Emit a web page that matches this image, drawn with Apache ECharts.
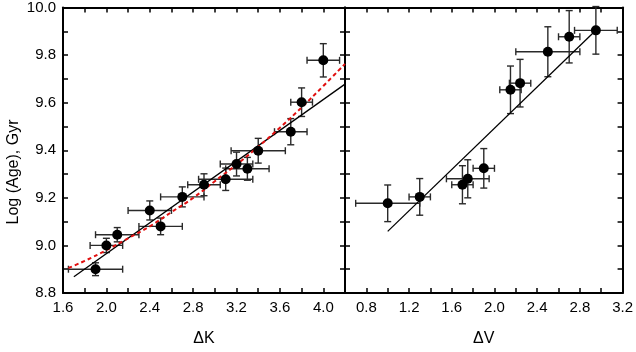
<!DOCTYPE html>
<html>
<head>
<meta charset="utf-8">
<script src="https://cdn.jsdelivr.net/npm/echarts@6/dist/echarts.min.js"></script>
<style>
  html, body { margin: 0; padding: 0; background: #fff; }
  #chart { width: 636px; height: 352px; }
</style>
</head>
<body>
<div id="chart"></div>
<script>
// left panel: delta K
const kX = [1.9, 2.0, 2.1, 2.4, 2.5, 2.7, 2.9, 3.1, 3.2, 3.3, 3.4, 3.7, 3.8, 4.0]
const kY = [8.90, 9.00, 9.045, 9.147, 9.08, 9.204, 9.255, 9.278, 9.342, 9.322, 9.398, 9.478, 9.602, 9.778]
const kXErr = [0.25, 0.15, 0.2, 0.2, 0.2, 0.2, 0.15, 0.25, 0.15, 0.2, 0.25, 0.15, 0.1, 0.15]
const kYErr = [0.027, 0.03, 0.03, 0.04, 0.035, 0.042, 0.046, 0.047, 0.05, 0.048, 0.052, 0.055, 0.06, 0.07]
const kFitX = [1.7, 4.2]
const kFitY = [8.868, 9.678]
const kCurveX = [1.65, 1.8, 2.0, 2.2, 2.4, 2.6, 2.8, 3.0, 3.2, 3.4, 3.6, 3.8, 4.0, 4.2]
const kCurveY = [8.905, 8.935, 8.98, 9.03, 9.08, 9.14, 9.20, 9.27, 9.34, 9.415, 9.495, 9.58, 9.67, 9.763]

// right panel: delta V
const vX = [1.0, 1.3, 1.7, 1.75, 1.9, 2.15, 2.24, 2.5, 2.7, 2.95]
const vY = [9.177, 9.204, 9.255, 9.28, 9.324, 9.654, 9.682, 9.814, 9.877, 9.904]
const vXErr = [0.3, 0.1, 0.1, 0.2, 0.1, 0.1, 0.1, 0.3, 0.1, 0.2]
const vYErr = [0.077, 0.077, 0.08, 0.08, 0.083, 0.1, 0.1, 0.105, 0.11, 0.1]
const vFitX = [1.0, 2.95]
const vFitY = [9.059, 9.904]

const font = 'Liberation Sans, Arial, sans-serif'

function zip(xs, ys) {
  return xs.map((x, i) => [x, ys[i]])
}

function errRows(xs, ys, exs, eys) {
  return xs.map((x, i) => [x, ys[i], exs[i], eys[i]])
}

// label only on every other tick
function everyOther(step) {
  return function(v) {
    const r = Math.round(v / step) * step
    return Math.abs(r - v) < 1e-6 ? v.toFixed(1) : ''
  }
}

function renderErr(params, api) {
  const x = api.value(0)
  const y = api.value(1)
  const ex = api.value(2)
  const ey = api.value(3)
  const l = api.coord([x - ex, y])
  const r = api.coord([x + ex, y])
  const t = api.coord([x, y + ey])
  const b = api.coord([x, y - ey])
  const c = 3.5
  const style = { stroke: '#2a2a2a', lineWidth: 1.4 }
  const seg = (x1, y1, x2, y2) => ({ type: 'line', shape: { x1, y1, x2, y2 }, style })
  return {
    type: 'group',
    children: [
      seg(l[0], l[1], r[0], r[1]),
      seg(l[0], l[1] - c, l[0], l[1] + c),
      seg(r[0], r[1] - c, r[0], r[1] + c),
      seg(t[0], t[1], b[0], b[1]),
      seg(t[0] - c, t[1], t[0] + c, t[1]),
      seg(b[0] - c, b[1], b[0] + c, b[1])
    ]
  }
}

const axisLine = { show: true, onZero: false, lineStyle: { color: '#000', width: 2 } }
const tick = { show: true, inside: true, length: 5, lineStyle: { color: '#000', width: 1.5 } }

function xAx(grid, min, max, pos, name) {
  return {
    type: 'value', gridIndex: grid, position: pos, min: min, max: max, interval: 0.2,
    axisLine: axisLine, axisTick: tick, splitLine: { show: false },
    axisLabel: {
      show: pos === 'bottom', interval: 0, margin: 7, color: '#000',
      fontFamily: font, fontSize: 15, formatter: everyOther(0.4)
    },
    name: name, nameLocation: 'middle', nameGap: 38,
    nameTextStyle: { color: '#000', fontFamily: font, fontSize: 16 }
  }
}

function yAx(grid, pos, labels) {
  return {
    type: 'value', gridIndex: grid, position: pos, min: 8.8, max: 10.0, interval: 0.1,
    axisLine: axisLine, axisTick: tick, splitLine: { show: false },
    axisLabel: {
      show: labels, interval: 0, margin: 7, color: '#000',
      fontFamily: font, fontSize: 15, formatter: everyOther(0.2)
    }
  }
}

const option = {
  animation: false,
  backgroundColor: '#fff',
  grid: [
    { left: 63, right: 291, top: 7.5, bottom: 48.5 },
    { left: 345, right: 10, top: 7.5, bottom: 48.5 }
  ],
  xAxis: [
    xAx(0, 1.6, 4.2, 'bottom', 'ΔK'),
    xAx(0, 1.6, 4.2, 'top', ''),
    xAx(1, 0.6, 3.2, 'bottom', 'ΔV'),
    xAx(1, 0.6, 3.2, 'top', '')
  ],
  yAxis: [
    yAx(0, 'left', true),
    yAx(0, 'right', false),
    yAx(1, 'left', false),
    yAx(1, 'right', false)
  ],
  graphic: [
    {
      type: 'text', x: 13.5, y: 172, rotation: Math.PI / 2,
      style: {
        text: 'Log (Age), Gyr', fill: '#000', font: '16px ' + font,
        textAlign: 'center', textVerticalAlign: 'middle'
      }
    }
  ],
  series: [
    {
      type: 'custom', xAxisIndex: 0, yAxisIndex: 0, z: 2,
      renderItem: renderErr, data: errRows(kX, kY, kXErr, kYErr)
    },
    {
      type: 'line', xAxisIndex: 0, yAxisIndex: 0, z: 3, symbol: 'none',
      lineStyle: { color: '#000', width: 1.3 }, data: zip(kFitX, kFitY)
    },
    {
      type: 'line', xAxisIndex: 0, yAxisIndex: 0, z: 3, symbol: 'none', smooth: true,
      lineStyle: { color: '#e01010', width: 2, type: [4, 3] }, data: zip(kCurveX, kCurveY)
    },
    {
      type: 'scatter', xAxisIndex: 0, yAxisIndex: 0, z: 4, symbolSize: 10,
      itemStyle: { color: '#000', opacity: 1 }, data: zip(kX, kY)
    },
    {
      type: 'custom', xAxisIndex: 2, yAxisIndex: 2, z: 2,
      renderItem: renderErr, data: errRows(vX, vY, vXErr, vYErr)
    },
    {
      type: 'line', xAxisIndex: 2, yAxisIndex: 2, z: 3, symbol: 'none',
      lineStyle: { color: '#000', width: 1.3 }, data: zip(vFitX, vFitY)
    },
    {
      type: 'scatter', xAxisIndex: 2, yAxisIndex: 2, z: 4, symbolSize: 10,
      itemStyle: { color: '#000', opacity: 1 }, data: zip(vX, vY)
    }
  ]
}

const chart = echarts.init(document.getElementById('chart'))
chart.setOption(option)
</script>
</body>
</html>
